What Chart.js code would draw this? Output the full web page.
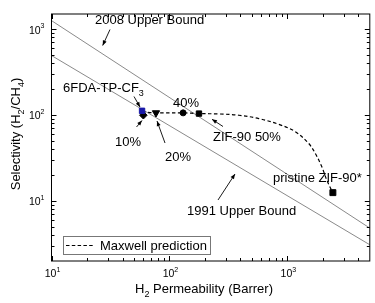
<!DOCTYPE html>
<html><head><meta charset="utf-8">
<script src="https://cdn.jsdelivr.net/npm/chart.js@4"></script>
<style>html,body{margin:0;padding:0;background:#fff}#wrap{width:375px;height:303px;position:relative}</style>
</head><body><div id="wrap"><canvas id="c"></canvas></div>
<script>
// ---- data ----
const xRange = [10, 5000];
const yRange = [2, 1500];
const boundX = [10, 5000];
const upper2008Y = [1256, 4.83];
const upper1991Y = [493, 3.09];
const sampleNames = ['6FDA-TP-CF3', '10%', '20%', '40%', 'ZIF-90 50%', 'pristine ZIF-90*'];
const permeability = [58.6, 60.1, 76.9, 130.6, 178, 2432];
const selectivity = [112, 99.5, 106, 106, 104, 12.5];
const maxwellX = [58.6, 77, 131, 178, 263, 388, 573, 845, 1169, 1514, 1723, 1960, 2159, 2377, 2432];
const maxwellY = [109, 106, 106, 104, 103, 99.5, 91, 78, 64, 46.8, 35.8, 25, 17.5, 13.2, 12.5];
const majorTicks = [10, 100, 1000];
const tickExponents = ['1', '2', '3'];

const FONT = '"Liberation Sans", Arial, sans-serif';
const pts = (i) => [{x: permeability[i], y: selectivity[i]}];
const zip = (xs, ys) => xs.map((x, i) => ({x, y: ys[i]}));

function rich(ctx, parts, x, y, align, size) {
  const small = Math.round(size * 0.66);
  const ws = []; let w = 0;
  parts.forEach(p => { ctx.font = (p[1] ? small : size) + 'px ' + FONT; const m = ctx.measureText(p[0]).width; ws.push(m); w += m; });
  let cx = align === 'center' ? x - w / 2 : align === 'right' ? x - w : x;
  ctx.textAlign = 'left'; ctx.textBaseline = 'middle';
  parts.forEach((p, i) => {
    ctx.font = (p[1] ? small : size) + 'px ' + FONT;
    const dy = p[1] === 1 ? -size * 0.4 : p[1] === -1 ? size * 0.42 : 0;
    ctx.fillText(p[0], cx, y + dy); cx += ws[i];
  });
}
function arrow(ctx, x1, y1, x2, y2) {
  ctx.beginPath(); ctx.moveTo(x1, y1); ctx.lineTo(x2, y2); ctx.stroke();
  const a = Math.atan2(y2 - y1, x2 - x1), L = 5, H = 2;
  ctx.beginPath(); ctx.moveTo(x2, y2);
  ctx.lineTo(x2 - L * Math.cos(a) + H * Math.sin(a), y2 - L * Math.sin(a) - H * Math.cos(a));
  ctx.lineTo(x2 - L * Math.cos(a) - H * Math.sin(a), y2 - L * Math.sin(a) + H * Math.cos(a));
  ctx.closePath(); ctx.fill();
}
function minorList(min, max) {
  const out = [];
  for (let d = Math.pow(10, Math.floor(Math.log10(min))); d <= max; d *= 10)
    for (let k = 2; k <= 9; k++) { const v = k * d; if (v > min && v < max) out.push(v); }
  return out;
}

const decor = {
  id: 'decor',
  afterDraw(chart) {
    const ctx = chart.ctx, a = chart.chartArea, xs = chart.scales.x, ys = chart.scales.y;
    ctx.save();
    ctx.strokeStyle = '#000'; ctx.fillStyle = '#000'; ctx.lineWidth = 1;
    ctx.strokeRect(a.left, a.top, a.right - a.left, a.bottom - a.top);
    const tick = (v, len, isX) => {
      ctx.beginPath();
      if (isX) {
        const p = Math.round(xs.getPixelForValue(v)) + 0.5;
        ctx.moveTo(p, a.bottom); ctx.lineTo(p, a.bottom - len);
        ctx.moveTo(p, a.top); ctx.lineTo(p, a.top + len);
      } else {
        const p = Math.round(ys.getPixelForValue(v)) + 0.5;
        ctx.moveTo(a.left, p); ctx.lineTo(a.left + len, p);
        ctx.moveTo(a.right, p); ctx.lineTo(a.right - len, p);
      }
      ctx.stroke();
    };
    minorList(xRange[0], xRange[1]).forEach(v => tick(v, 3, true));
    minorList(yRange[0], yRange[1]).forEach(v => tick(v, 3, false));
    majorTicks.forEach(v => { tick(v, 5, true); tick(v, 5, false); });
    // tick labels
    majorTicks.forEach((v, i) => {
      rich(ctx, [['10', 0], [tickExponents[i], 1]], xs.getPixelForValue(v) + 1, a.bottom + 13, 'center', 10.5);
      rich(ctx, [['10', 0], [tickExponents[i], 1]], a.left - 7, ys.getPixelForValue(v) + 1.5, 'right', 10.5);
    });
    // axis titles
    rich(ctx, [['H', 0], ['2', -1], [' Permeability (Barrer)', 0]], 204, 289, 'center', 13);
    ctx.save(); ctx.translate(16, 134); ctx.rotate(-Math.PI / 2);
    rich(ctx, [['Selectivity (H', 0], ['2', -1], ['/CH', 0], ['4', -1], [')', 0]], 0, 0, 'center', 13);
    ctx.restore();
    // annotations
    rich(ctx, [['2008 Upper Bound', 0]], 95, 20, 'left', 13);
    rich(ctx, [['6FDA-TP-CF', 0], ['3', -1]], 63, 88, 'left', 13);
    rich(ctx, [[sampleNames[3], 0]], 173, 103, 'left', 13);
    rich(ctx, [[sampleNames[1], 0]], 115, 142, 'left', 13);
    rich(ctx, [[sampleNames[2], 0]], 165, 157, 'left', 13);
    rich(ctx, [[sampleNames[4], 0]], 213, 137, 'left', 13);
    rich(ctx, [[sampleNames[5], 0]], 273, 178, 'left', 13);
    rich(ctx, [['1991 Upper Bound', 0]], 187, 211, 'left', 13);
    ctx.lineWidth = 0.9;
    arrow(ctx, 110, 29.5, 102.7, 45.5);
    arrow(ctx, 134, 96.5, 140, 107);
    arrow(ctx, 136.5, 127, 142, 120.5);
    arrow(ctx, 165, 143, 157, 121);
    arrow(ctx, 223, 126.5, 212, 119.3);
    arrow(ctx, 218, 200, 235, 174);
    // legend
    ctx.lineWidth = 1; ctx.strokeStyle = '#777';
    ctx.strokeRect(63.5, 236.5, 147, 18);
    ctx.strokeStyle = '#000'; ctx.setLineDash([3.5, 2.3]);
    ctx.beginPath(); ctx.moveTo(66, 245.5); ctx.lineTo(94, 245.5); ctx.stroke();
    ctx.setLineDash([]);
    rich(ctx, [['Maxwell prediction', 0]], 100, 246, 'left', 13);
    ctx.restore();
  }
};

new Chart(document.getElementById('c'), {
  type: 'scatter',
  data: {
    datasets: [
      {data: zip(boundX, upper2008Y), showLine: true, borderColor: '#8a8a8a', borderWidth: 1, pointRadius: 0, order: 10},
      {data: zip(boundX, upper1991Y), showLine: true, borderColor: '#8a8a8a', borderWidth: 1, pointRadius: 0, order: 9},
      {data: zip(maxwellX, maxwellY), showLine: true, borderColor: '#000', borderWidth: 1.2, borderDash: [3.5, 2.5], tension: 0.35, pointRadius: 0, order: 8},
      {data: pts(1), pointStyle: 'rectRot', pointRadius: 3.8, backgroundColor: '#000', borderColor: '#000', order: 5},
      {data: pts(0), pointStyle: 'rect', pointRadius: 3.8, backgroundColor: '#1a1aa8', borderColor: '#1a1aa8', order: 4},
      {data: pts(2), pointStyle: 'triangle', rotation: 180, pointRadius: 4.2, backgroundColor: '#000', borderColor: '#000', order: 3},
      {data: pts(3), pointStyle: 'circle', pointRadius: 3, backgroundColor: '#000', borderColor: '#000', order: 2},
      {data: pts(4), pointStyle: 'rect', pointRadius: 3.8, backgroundColor: '#000', borderColor: '#000', order: 1},
      {data: pts(5), pointStyle: 'rect', pointRadius: 4.2, backgroundColor: '#000', borderColor: '#000', order: 0}
    ]
  },
  options: {
    responsive: true, maintainAspectRatio: false, animation: false,
    layout: {padding: {left: 51.5, right: 4, top: 14, bottom: 42}},
    plugins: {legend: {display: false}, tooltip: {enabled: false}},
    scales: {
      x: {type: 'logarithmic', min: xRange[0], max: xRange[1], display: false},
      y: {type: 'logarithmic', min: yRange[0], max: yRange[1], display: false}
    }
  },
  plugins: [decor]
});
</script></body></html>
